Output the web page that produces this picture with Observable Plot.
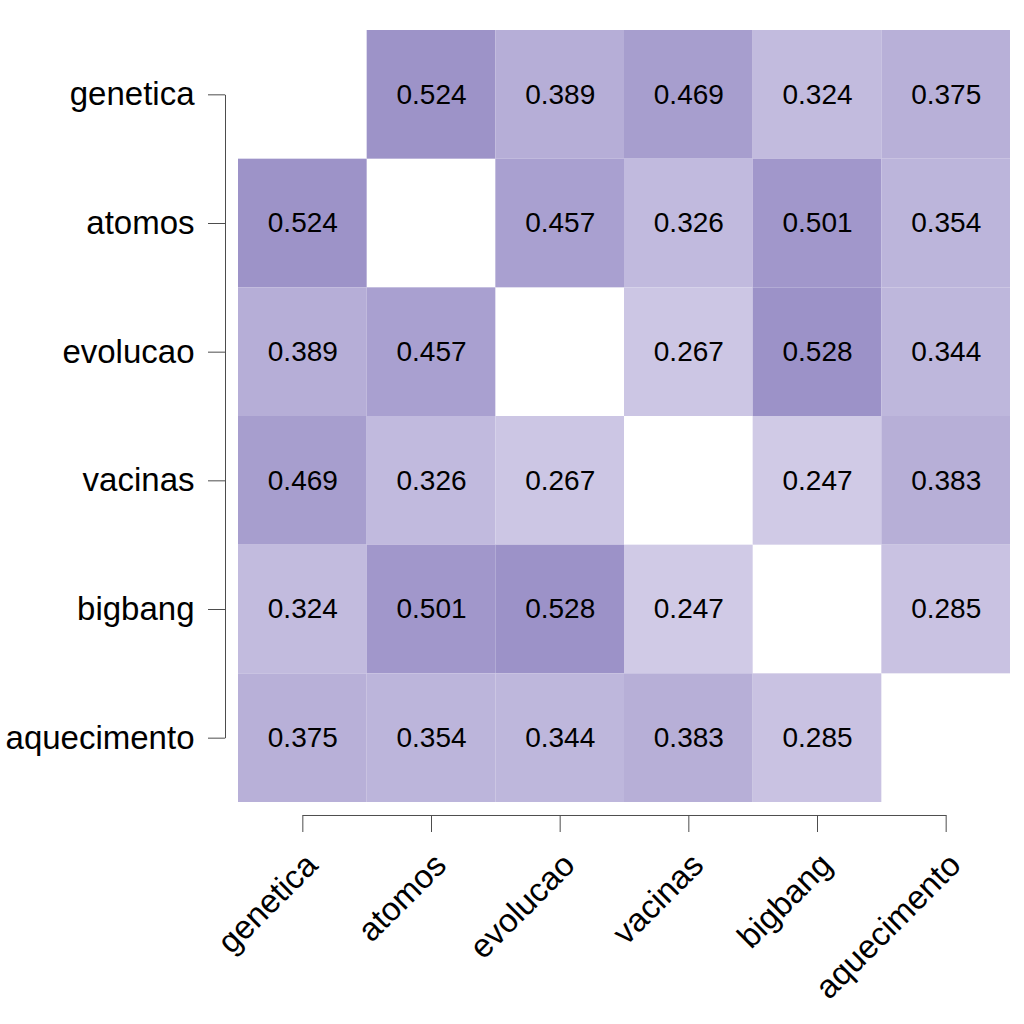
<!DOCTYPE html>
<html>
<head>
<meta charset="utf-8">
<script src="https://cdn.jsdelivr.net/npm/d3@7"></script>
<script src="https://cdn.jsdelivr.net/npm/@observablehq/plot@0.6"></script>
<style>
  html, body { margin: 0; padding: 0; background: #fff; }
  #chart svg { display: block; }
</style>
</head>
<body>
<div id="chart"></div>
<script>
const categories = ["genetica", "atomos", "evolucao", "vacinas", "bigbang", "aquecimento"];
const genetica    = [null, 0.524, 0.389, 0.469, 0.324, 0.375];
const atomos      = [0.524, null, 0.457, 0.326, 0.501, 0.354];
const evolucao    = [0.389, 0.457, null, 0.267, 0.528, 0.344];
const vacinas     = [0.469, 0.326, 0.267, null, 0.247, 0.383];
const bigbang     = [0.324, 0.501, 0.528, 0.247, null, 0.285];
const aquecimento = [0.375, 0.354, 0.344, 0.383, 0.285, null];
const rows = [genetica, atomos, evolucao, vacinas, bigbang, aquecimento];

const table = [];
rows.forEach((r, i) => r.forEach((v, j) => {
  if (v !== null) table.push({row: categories[i], col: categories[j], value: v});
}));

const W = 1024, H = 1024;
const mL = 238, mR = 14, mT = 30, mB = 222;
const bw = (W - mL - mR) / categories.length;
const gap = 13;
const axisColor = "#4d4d4d";
const font = "Liberation Sans, Arial, Helvetica, sans-serif";

const chart = Plot.plot({
  width: W,
  height: H,
  marginLeft: mL,
  marginRight: mR,
  marginTop: mT,
  marginBottom: mB,
  style: {fontFamily: font, background: "white"},
  x: {domain: categories, padding: 0, round: false, axis: null},
  y: {domain: categories, padding: 0, round: false, axis: null},
  color: {type: "linear", domain: [0.247, 0.528], range: ["#D0CAE6", "#9C92C8"]},
  marks: [
    Plot.cell(table, {x: "col", y: "row", fill: "value", inset: 0}),
    Plot.text(table, {x: "col", y: "row", text: d => d.value.toFixed(3), fontSize: 28, fill: "black"}),
    // y axis
    Plot.axisY({anchor: "left", tickSize: 17, dx: -gap, tickPadding: 14, fontSize: 33, stroke: axisColor, color: "black", label: null}),
    Plot.link([0], {x1: () => categories[0], x2: () => categories[0], y1: () => categories[0], y2: () => categories[categories.length - 1], dx: -(bw / 2 + gap), stroke: axisColor, strokeWidth: 1}),
    // x axis
    Plot.axisX({anchor: "bottom", tickSize: 17, dy: gap, tickFormat: () => "", stroke: axisColor, label: null}),
    Plot.link([0], {x1: () => categories[0], x2: () => categories[categories.length - 1], y1: () => categories[categories.length - 1], y2: () => categories[categories.length - 1], dy: bw / 2 + gap, stroke: axisColor, strokeWidth: 1}),
    Plot.text(categories, {x: d => d, frameAnchor: "bottom", dy: 48, rotate: -45, textAnchor: "end", lineAnchor: "top", fontSize: 33, fill: "black"})
  ]
});
document.getElementById("chart").appendChild(chart);
</script>
</body>
</html>
